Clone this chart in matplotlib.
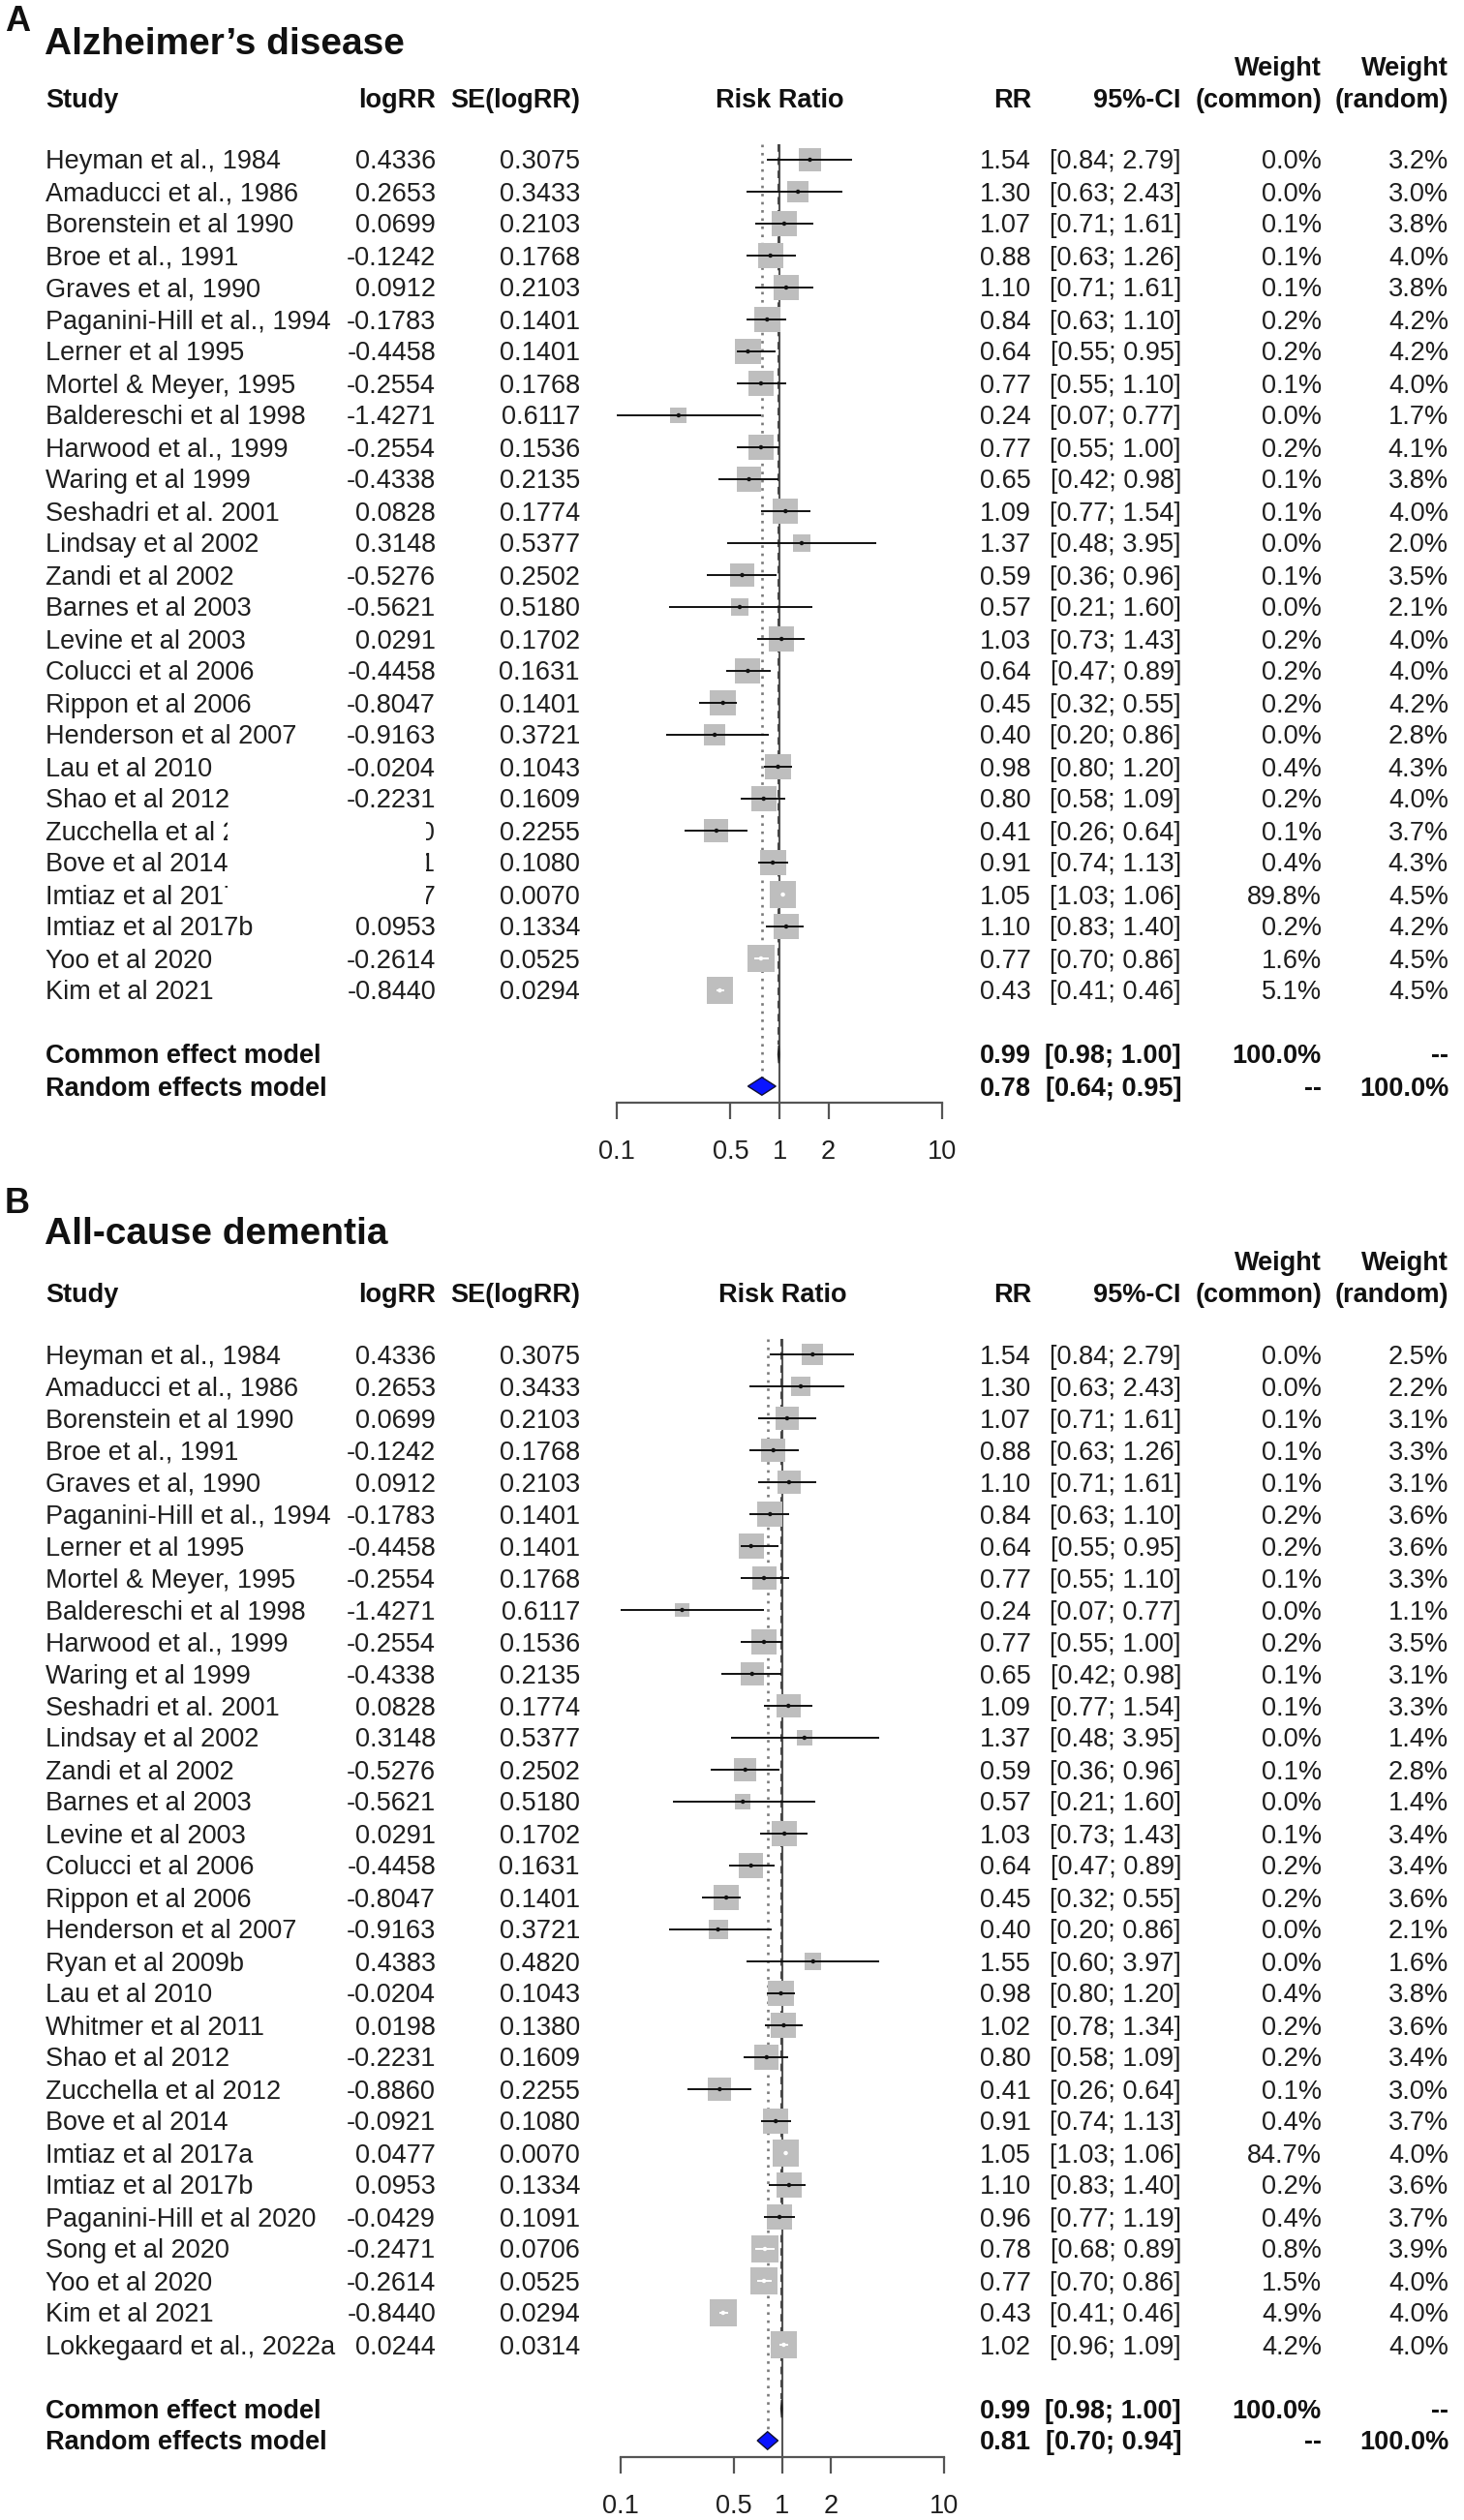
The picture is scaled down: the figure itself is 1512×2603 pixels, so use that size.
import numpy as np
import matplotlib
matplotlib.use("Agg")
import matplotlib.pyplot as plt
from matplotlib.transforms import blended_transform_factory, offset_copy
from matplotlib.patches import Rectangle
from matplotlib.ticker import NullLocator

plt.rcParams['font.family'] = ['Liberation Sans', 'DejaVu Sans']

# ---------------- data: panel A (Alzheimer's disease) ----------------
ad_study = ["Heyman et al., 1984", "Amaducci et al., 1986", "Borenstein et al 1990",
            "Broe et al., 1991", "Graves et al, 1990", "Paganini-Hill et al., 1994",
            "Lerner et al 1995", "Mortel & Meyer, 1995", "Baldereschi et al 1998",
            "Harwood et al., 1999", "Waring et al 1999", "Seshadri et al. 2001",
            "Lindsay et al 2002", "Zandi et al 2002", "Barnes et al 2003",
            "Levine et al 2003", "Colucci et al 2006", "Rippon et al 2006",
            "Henderson et al 2007", "Lau et al 2010", "Shao et al 2012",
            "Zucchella et al 2012", "Bove et al 2014", "Imtiaz et al 2017a",
            "Imtiaz et al 2017b", "Yoo et al 2020", "Kim et al 2021"]
ad_logrr = [0.4336, 0.2653, 0.0699, -0.1242, 0.0912, -0.1783, -0.4458, -0.2554, -1.4271,
            -0.2554, -0.4338, 0.0828, 0.3148, -0.5276, -0.5621, 0.0291, -0.4458, -0.8047,
            -0.9163, -0.0204, -0.2231, -0.8860, -0.0921, 0.0477, 0.0953, -0.2614, -0.8440]
ad_se = [0.3075, 0.3433, 0.2103, 0.1768, 0.2103, 0.1401, 0.1401, 0.1768, 0.6117,
         0.1536, 0.2135, 0.1774, 0.5377, 0.2502, 0.5180, 0.1702, 0.1631, 0.1401,
         0.3721, 0.1043, 0.1609, 0.2255, 0.1080, 0.0070, 0.1334, 0.0525, 0.0294]
ad_rr = [1.54, 1.30, 1.07, 0.88, 1.10, 0.84, 0.64, 0.77, 0.24, 0.77, 0.65, 1.09, 1.37, 0.59,
         0.57, 1.03, 0.64, 0.45, 0.40, 0.98, 0.80, 0.41, 0.91, 1.05, 1.10, 0.77, 0.43]
ad_lo = [0.84, 0.63, 0.71, 0.63, 0.71, 0.63, 0.55, 0.55, 0.07, 0.55, 0.42, 0.77, 0.48, 0.36,
         0.21, 0.73, 0.47, 0.32, 0.20, 0.80, 0.58, 0.26, 0.74, 1.03, 0.83, 0.70, 0.41]
ad_hi = [2.79, 2.43, 1.61, 1.26, 1.61, 1.10, 0.95, 1.10, 0.77, 1.00, 0.98, 1.54, 3.95, 0.96,
         1.60, 1.43, 0.89, 0.55, 0.86, 1.20, 1.09, 0.64, 1.13, 1.06, 1.40, 0.86, 0.46]
ad_wc = [0.0, 0.0, 0.1, 0.1, 0.1, 0.2, 0.2, 0.1, 0.0, 0.2, 0.1, 0.1, 0.0, 0.1,
         0.0, 0.2, 0.2, 0.2, 0.0, 0.4, 0.2, 0.1, 0.4, 89.8, 0.2, 1.6, 5.1]
ad_wr = [3.2, 3.0, 3.8, 4.0, 3.8, 4.2, 4.2, 4.0, 1.7, 4.1, 3.8, 4.0, 2.0, 3.5,
         2.1, 4.0, 4.0, 4.2, 2.8, 4.3, 4.0, 3.7, 4.3, 4.5, 4.2, 4.5, 4.5]
ad_common = [0.99, 0.98, 1.00]
ad_random = [0.78, 0.64, 0.95]

# ---------------- data: panel B (All-cause dementia) ----------------
dem_study = ["Heyman et al., 1984", "Amaducci et al., 1986", "Borenstein et al 1990",
             "Broe et al., 1991", "Graves et al, 1990", "Paganini-Hill et al., 1994",
             "Lerner et al 1995", "Mortel & Meyer, 1995", "Baldereschi et al 1998",
             "Harwood et al., 1999", "Waring et al 1999", "Seshadri et al. 2001",
             "Lindsay et al 2002", "Zandi et al 2002", "Barnes et al 2003",
             "Levine et al 2003", "Colucci et al 2006", "Rippon et al 2006",
             "Henderson et al 2007", "Ryan et al 2009b", "Lau et al 2010",
             "Whitmer et al 2011", "Shao et al 2012", "Zucchella et al 2012",
             "Bove et al 2014", "Imtiaz et al 2017a", "Imtiaz et al 2017b",
             "Paganini-Hill et al 2020", "Song et al 2020", "Yoo et al 2020",
             "Kim et al 2021", "Lokkegaard et al., 2022a"]
dem_logrr = [0.4336, 0.2653, 0.0699, -0.1242, 0.0912, -0.1783, -0.4458, -0.2554, -1.4271,
             -0.2554, -0.4338, 0.0828, 0.3148, -0.5276, -0.5621, 0.0291, -0.4458, -0.8047,
             -0.9163, 0.4383, -0.0204, 0.0198, -0.2231, -0.8860, -0.0921, 0.0477, 0.0953,
             -0.0429, -0.2471, -0.2614, -0.8440, 0.0244]
dem_se = [0.3075, 0.3433, 0.2103, 0.1768, 0.2103, 0.1401, 0.1401, 0.1768, 0.6117,
          0.1536, 0.2135, 0.1774, 0.5377, 0.2502, 0.5180, 0.1702, 0.1631, 0.1401,
          0.3721, 0.4820, 0.1043, 0.1380, 0.1609, 0.2255, 0.1080, 0.0070, 0.1334,
          0.1091, 0.0706, 0.0525, 0.0294, 0.0314]
dem_rr = [1.54, 1.30, 1.07, 0.88, 1.10, 0.84, 0.64, 0.77, 0.24, 0.77, 0.65, 1.09, 1.37, 0.59,
          0.57, 1.03, 0.64, 0.45, 0.40, 1.55, 0.98, 1.02, 0.80, 0.41, 0.91, 1.05, 1.10, 0.96,
          0.78, 0.77, 0.43, 1.02]
dem_lo = [0.84, 0.63, 0.71, 0.63, 0.71, 0.63, 0.55, 0.55, 0.07, 0.55, 0.42, 0.77, 0.48, 0.36,
          0.21, 0.73, 0.47, 0.32, 0.20, 0.60, 0.80, 0.78, 0.58, 0.26, 0.74, 1.03, 0.83, 0.77,
          0.68, 0.70, 0.41, 0.96]
dem_hi = [2.79, 2.43, 1.61, 1.26, 1.61, 1.10, 0.95, 1.10, 0.77, 1.00, 0.98, 1.54, 3.95, 0.96,
          1.60, 1.43, 0.89, 0.55, 0.86, 3.97, 1.20, 1.34, 1.09, 0.64, 1.13, 1.06, 1.40, 1.19,
          0.89, 0.86, 0.46, 1.09]
dem_wc = [0.0, 0.0, 0.1, 0.1, 0.1, 0.2, 0.2, 0.1, 0.0, 0.2, 0.1, 0.1, 0.0, 0.1, 0.0, 0.1,
          0.2, 0.2, 0.0, 0.0, 0.4, 0.2, 0.2, 0.1, 0.4, 84.7, 0.2, 0.4, 0.8, 1.5, 4.9, 4.2]
dem_wr = [2.5, 2.2, 3.1, 3.3, 3.1, 3.6, 3.6, 3.3, 1.1, 3.5, 3.1, 3.3, 1.4, 2.8, 1.4, 3.4,
          3.4, 3.6, 2.1, 1.6, 3.8, 3.6, 3.4, 3.0, 3.7, 4.0, 3.6, 3.7, 3.9, 4.0, 4.0, 4.0]
dem_common = [0.99, 0.98, 1.00]
dem_random = [0.81, 0.70, 0.94]

tick_values = [0.1, 0.5, 1, 2, 10]
tick_labels = ["0.1", "0.5", "1", "2", "10"]

# ---------------- layout ----------------
W, H, DPI = 1512, 2603, 100
ROW = 33.0          # pixels per row
FS = 19.5           # table font size
TXT = "#1e1e1e"

fig = plt.figure(figsize=(W / DPI, H / DPI), dpi=DPI)
fig.patch.set_facecolor("white")

COL_STUDY = 47
COL_LOG = 450
COL_SE = 599
COL_RR = 1065
COL_CI = 1220
COL_WC = 1365
COL_WR = 1496


def fx(px):
    return px / W


def draw_panel(row1_px, x01_px, x10_px, label, title, label_row, title_row,
               study, logrr, se, rr, lo, hi, wc, wr, common, random, mask_rows=None):
    n = len(study)
    top_row, bot_row = -4.0, n + 3.5
    top_px = row1_px + (top_row - 1) * ROW
    bot_px = row1_px + (bot_row - 1) * ROW
    ax = fig.add_axes([fx(x01_px), 1 - bot_px / H, fx(x10_px - x01_px), (bot_px - top_px) / H])
    ax.set_xscale("log")
    ax.set_xlim(0.1, 10)
    ax.set_ylim(bot_row, top_row)
    ax.patch.set_visible(False)
    for s in ("top", "left", "right"):
        ax.spines[s].set_visible(False)
    ax.spines["bottom"].set_color("#555555")
    ax.spines["bottom"].set_linewidth(1.6)
    ax.set_xticks(tick_values)
    ax.set_xticklabels(tick_labels)
    ax.xaxis.set_minor_locator(NullLocator())
    ax.set_yticks([])
    ax.tick_params(axis="x", direction="out", length=12, width=1.6, color="#555555",
                   labelsize=FS, labelcolor=TXT, pad=15.5)

    rows = np.arange(1, n + 1)
    rr = np.asarray(rr); lo = np.asarray(lo); hi = np.asarray(hi); wr = np.asarray(wr)

    # reference lines
    ax.vlines(1, 0.5, bot_row, colors="#555555", lw=1.5, zorder=1)
    ax.vlines(common[0], 0.5, n + 1.7, colors="#444444", lw=1.4,
              linestyles=(0, (4, 3)), zorder=1)
    ax.vlines(random[0], 0.5, n + 3 - 0.28, colors="#7a7a7a", lw=1.9,
              linestyles=(0, (1, 2.2)), zorder=1)

    # squares (area proportional to random-effects weight)
    side_px = 27.5 * np.sqrt(wr / wr.max())
    side_pt = side_px * 72.0 / DPI
    ax.scatter(rr, rows, s=side_pt ** 2, marker="s", c="#bebebe", linewidths=0, zorder=2)

    # CI lines: white when fully inside the square
    fig.canvas.draw()
    px_lo = ax.transData.transform(np.c_[lo, rows])[:, 0]
    px_hi = ax.transData.transform(np.c_[hi, rows])[:, 0]
    inside = (px_hi - px_lo) < side_px
    cols = ["white" if f else "#111111" for f in inside]
    ax.hlines(rows, lo, hi, colors=cols, lw=1.4, zorder=3)
    ax.scatter(rr, rows, s=3.2 ** 2, marker="o", c=cols, linewidths=0, zorder=4)

    # diamonds
    r_c, r_r = n + 2, n + 3
    hh = 0.28
    ax.fill([common[1], common[0], common[2], common[0]], [r_c, r_c - hh, r_c, r_c + hh],
            fc="#808080", ec="#222222", lw=1.0, zorder=5)
    ax.fill([random[1], random[0], random[2], random[0]], [r_r, r_r - hh, r_r, r_r + hh],
            fc="#0a14ff", ec="#101030", lw=1.0, zorder=5)

    tb = blended_transform_factory(fig.transFigure, ax.transData)
    t = offset_copy(tb, fig=fig, x=0, y=-2.5, units="dots")
    kw = dict(transform=t, fontsize=FS, color=TXT, va="center", zorder=6)
    bk = dict(kw, fontweight="bold", color="#111111")

    # label + title
    ax.text(fx(5), label_row, label, transform=t, fontsize=26, fontweight="bold",
            color="#111111", va="center", ha="left")
    ax.text(fx(46), title_row, title, transform=t, fontsize=28, fontweight="bold",
            color="#111111", va="center", ha="left")

    # headers
    hr1, hr2 = -0.92, -1.92
    ax.text(fx(COL_STUDY), hr1, "Study", ha="left", **bk)
    ax.text(fx(COL_LOG), hr1, "logRR", ha="right", **bk)
    ax.text(fx(COL_SE), hr1, "SE(logRR)", ha="right", **bk)
    th = offset_copy(ax.transData, fig=fig, x=0, y=-2.5, units="dots")
    ax.text(1, hr1, "Risk Ratio", ha="center", transform=th, fontsize=FS,
            fontweight="bold", color="#111111", va="center")
    ax.text(fx(COL_RR), hr1, "RR", ha="right", **bk)
    ax.text(fx(COL_CI), hr1, "95%-CI", ha="right", **bk)
    ax.text(fx(COL_WC), hr2, "Weight", ha="right", **bk)
    ax.text(fx(COL_WC), hr1, "(common)", ha="right", **bk)
    ax.text(fx(COL_WR), hr2, "Weight", ha="right", **bk)
    ax.text(fx(COL_WR), hr1, "(random)", ha="right", **bk)

    # study rows
    for i in range(n):
        y = rows[i]
        ax.text(fx(COL_STUDY), y, study[i], ha="left", **kw)
        ax.text(fx(COL_LOG), y, f"{logrr[i]:.4f}", ha="right", **kw)
        ax.text(fx(COL_SE), y, f"{se[i]:.4f}", ha="right", **kw)
        ax.text(fx(COL_RR), y, f"{rr[i]:.2f}", ha="right", **kw)
        ax.text(fx(COL_CI), y, f"[{lo[i]:.2f}; {hi[i]:.2f}]", ha="right", **kw)
        ax.text(fx(COL_WC), y, f"{wc[i]:.1f}%", ha="right", **kw)
        ax.text(fx(COL_WR), y, f"{wr[i]:.1f}%", ha="right", **kw)

    # summary rows
    ax.text(fx(COL_STUDY), r_c, "Common effect model", ha="left", **bk)
    ax.text(fx(COL_RR), r_c, f"{common[0]:.2f}", ha="right", **bk)
    ax.text(fx(COL_CI), r_c, f"[{common[1]:.2f}; {common[2]:.2f}]", ha="right", **bk)
    ax.text(fx(COL_WC), r_c, "100.0%", ha="right", **bk)
    ax.text(fx(COL_WR), r_c, "--", ha="right", **bk)
    ax.text(fx(COL_STUDY), r_r, "Random effects model", ha="left", **bk)
    ax.text(fx(COL_RR), r_r, f"{random[0]:.2f}", ha="right", **bk)
    ax.text(fx(COL_CI), r_r, f"[{random[1]:.2f}; {random[2]:.2f}]", ha="right", **bk)
    ax.text(fx(COL_WC), r_r, "--", ha="right", **bk)
    ax.text(fx(COL_WR), r_r, "100.0%", ha="right", **bk)

    # white patch hiding part of some rows (as in the source image)
    if mask_rows is not None:
        rect = Rectangle((fx(235), mask_rows[0]), fx(440 - 235), mask_rows[1] - mask_rows[0],
                         transform=tb, fc="white", ec="none", zorder=10)
        rect.set_clip_on(False)
        ax.add_patch(rect)
    return ax


draw_panel(165, 637, 973, "A", "Alzheimer\u2019s disease", -3.4, -2.68,
           ad_study, ad_logrr, ad_se, ad_rr, ad_lo, ad_hi, ad_wc, ad_wr,
           ad_common, ad_random, mask_rows=(21.5, 24.5))
draw_panel(1399, 641, 975, "B", "All-cause dementia", -3.78, -2.82,
           dem_study, dem_logrr, dem_se, dem_rr, dem_lo, dem_hi, dem_wc, dem_wr,
           dem_common, dem_random)

fig.savefig("out.png", dpi=DPI, facecolor="white")
